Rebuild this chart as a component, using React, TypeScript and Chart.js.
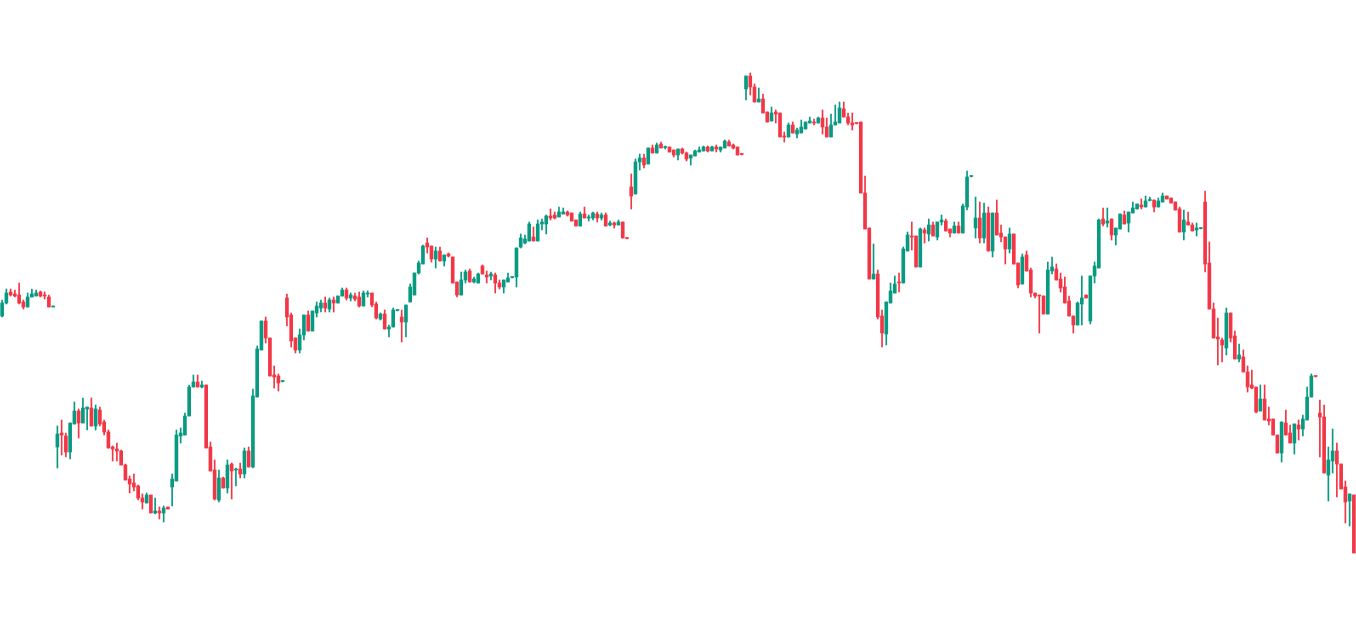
import React, { useEffect, useRef } from "react";
import { Chart, registerables } from "chart.js";

Chart.register(...registerables);

// OHLC values (arbitrary price units)
const opens = [
  284, 297, 308, 306, 305, 298, 293, 303, 304, 308, 305, 303, 293,
  153, 167, 164, 148, 176, 189, 177, 191, 192, 174, 190, 178, 168, 153, 151, 149, 135, 121, 117, 114, 102, 97,
  105, 87, 89, 87, 93, 113, 119, 164, 165, 184, 213, 218, 213, 215, 153, 130, 100, 122, 112, 136, 130, 131,
  126, 149, 133, 203, 250, 279, 262, 225, 224, 218.5,
  302, 285, 262, 250, 265, 285, 269, 287, 292, 297, 291, 300, 297, 304, 310, 302, 304, 303, 294, 306, 307,
  296, 281, 286, 271, 273, 289.5, 283, 278, 298, 305, 327, 336, 357, 354, 341, 349, 339, 346, 343, 318, 305,
  320, 329, 318, 317, 334, 325, 324, 325, 317, 313, 318, 322.5, 323, 353, 357, 359, 363, 359, 376, 376, 384,
  385, 383, 386, 388, 387, 380, 374, 386, 382, 382, 386, 382, 385, 375, 377, 375, 378, 362,
  413, 406, 438, 442, 436, 452, 447, 456, 452.5, 453, 450, 445, 451, 447, 442, 444, 448, 449, 453, 449, 453,
  450, 452, 458, 455, 453, 446,
  511, 524, 513, 498, 501, 488, 479, 488, 487, 464, 463, 475, 466, 467, 471, 477, 478, 477, 482, 473, 463,
  475, 477, 491, 483, 477, 477, 478, 407, 372, 321, 326, 284, 266, 297, 307, 318, 317, 349, 364, 364, 333,
  370, 366, 375, 363, 378, 379, 371, 367, 374, 367, 393, 423.5,
  372, 382, 362, 387, 349, 387, 367, 363, 351, 366, 337, 316, 345, 330, 307, 305, 304, 286, 329, 331, 321,
  313, 299, 284, 275, 296, 305, 279, 324, 332, 381, 377, 381, 365, 371, 385, 377, 387, 391, 395, 393, 399.5,
  400, 393, 398, 404, 402, 398, 391, 368, 378, 375, 370, 371.5, 398, 337, 291, 263, 260, 252, 287, 264, 241,
  243, 228, 215, 213, 189, 201, 181, 181, 165, 147, 177, 167, 157, 175, 171, 180, 203, 224,
  187, 183, 125, 139, 149, 136, 113, 99, 105,
];
const highs = [
  300, 311, 311, 310, 317, 300, 307, 311, 310, 309, 308, 305, 294,
  174, 180, 167, 177, 198, 191, 202, 193, 202, 195, 193, 180, 170, 154, 157, 150, 136, 124, 126, 115, 106, 107,
  105, 102, 93, 94, 93, 126, 170, 172, 187, 215, 225, 225, 219, 215, 158, 140, 130, 123, 140, 137, 132, 137,
  152, 153, 211, 254, 279, 283, 262, 234, 226, 219,
  306, 287, 262, 271, 285, 289, 289, 298, 300, 303, 302, 303, 304, 312, 312, 307, 307, 308, 309, 309, 307,
  298, 287, 290, 275, 292, 290, 290, 295, 316, 327, 339, 355, 362, 354, 353, 353, 345, 347, 343, 318, 328,
  330, 331, 323, 327, 335, 329, 328, 327, 320, 320, 327, 323, 352, 366, 365, 378, 373, 380, 381, 385, 391,
  388, 393, 392, 389, 387, 380, 388, 393, 385, 388, 388, 387, 387, 379, 378, 380, 378, 362,
  426, 441, 446, 446, 452, 455, 457, 458, 454, 453, 450, 451, 452, 448, 445, 450, 453, 454, 454, 454, 455,
  453, 460, 460, 456, 453, 446,
  524, 527, 516, 512, 506, 488, 493, 490, 487, 468, 477, 478, 472, 480, 478, 483, 481, 483, 490, 482, 486,
  495, 498, 498, 487, 487, 477, 478, 424, 372, 356, 330, 290, 298, 317, 324, 327, 353, 368, 378, 364, 372,
  372, 381, 378, 378, 385, 381, 371, 378, 378, 396, 429, 424,
  403, 398, 397, 393, 387, 400, 375, 363, 372, 366, 337, 346, 349, 332, 307, 305, 304, 338, 343, 336, 327,
  323, 304, 284, 298, 324, 305, 324, 338, 381, 392, 392, 381, 372, 386, 389, 388, 398, 396, 401, 404, 403,
  400, 402, 407, 404, 402, 398, 393, 390, 388, 377, 377, 372, 409, 358, 297, 282, 262, 292, 287, 269, 256,
  250, 234, 230, 213, 215, 215, 193, 181, 165, 178, 190, 175, 176, 180, 185, 213, 226, 224,
  200, 195, 153, 171, 157, 136, 119, 106, 105,
];
const lows = [
  283, 296, 304, 303, 296, 291, 293, 303, 304, 303, 301, 293, 293,
  132, 145, 143, 141, 176, 162, 177, 170, 174, 170, 174, 165, 152, 139, 139, 135, 120, 107, 109, 100, 91, 97,
  87, 86, 81, 78, 91, 94, 119, 157, 165, 184, 213, 213, 212, 152, 129, 100, 98, 112, 107, 101, 114, 122,
  122, 133, 132, 203, 250, 257, 224, 212, 209, 218,
  274, 253, 247, 247, 260, 269, 269, 283, 288, 288, 288, 288, 297, 304, 300, 299, 299, 293, 294, 303, 293,
  281, 280, 271, 263, 273, 289, 258, 263, 298, 305, 326, 336, 347, 338, 332, 339, 334, 343, 317, 303, 305,
  317, 318, 317, 317, 326, 317, 320, 307, 311, 307, 318, 322, 313, 352, 356, 359, 359, 359, 370, 366,
  380, 381, 383, 386, 384, 379, 374, 374, 382, 379, 380, 378, 380, 374, 374, 372, 375, 362, 361,
  391, 406, 430, 432, 436, 447, 447, 452, 451, 448, 443, 440, 446, 439, 435, 444, 448, 449, 448, 449, 448,
  448, 452, 454, 451, 445, 445,
  500, 505, 498, 498, 487, 478, 479, 477, 463, 458, 463, 467, 462, 467, 471, 477, 475, 477, 466, 463, 463,
  475, 477, 483, 475, 470, 476, 407, 371, 321, 321, 281, 253, 255, 297, 307, 308, 317, 349, 350, 333, 333,
  357, 359, 364, 360, 375, 369, 363, 367, 367, 367, 390, 423,
  362, 357, 357, 349, 343, 365, 358, 336, 347, 336, 312, 316, 329, 303, 302, 267, 286, 286, 326, 320, 308,
  297, 284, 267, 275, 275, 302, 276, 317, 332, 374, 373, 360, 355, 371, 376, 368, 387, 391, 391, 393, 399,
  388, 393, 398, 401, 397, 390, 368, 360, 375, 369, 364, 371, 328, 291, 262, 235, 238, 245, 258, 241, 238,
  228, 208, 211, 187, 189, 180, 175, 165, 147, 138, 165, 157, 146, 160, 164, 180, 203, 223,
  143, 127, 99, 127, 103, 111, 77, 74, 47,
];
const closes = [
  297, 307, 305, 304, 297, 293, 303, 306, 307, 304, 304, 293, 294,
  166, 165, 148, 177, 189, 177, 192, 193, 174, 191, 176, 168, 152, 151, 149, 135, 120, 116, 113, 102, 98, 105,
  87, 89, 87, 92, 91, 121, 165, 167, 184, 213, 218, 213, 215, 152, 129, 101, 122, 112, 135, 129, 131, 126,
  149, 133, 204, 251, 279, 262, 224, 223, 217, 219,
  283, 259, 250, 265, 285, 269, 289, 294, 297, 292, 300, 297, 304, 310, 302, 305, 301, 294, 307, 307, 295,
  282, 286, 271, 273, 290, 290, 278, 295, 313, 327, 337, 354, 353, 341, 349, 339, 345, 344, 317, 305, 320,
  328, 318, 321, 326, 326, 323, 326, 317, 313, 320, 322, 323, 352, 362, 361, 376, 359, 376, 378, 384, 382,
  382, 388, 388, 385, 379, 374, 386, 382, 383, 387, 382, 385, 374, 377, 375, 378, 362, 361.5,
  404, 438, 442, 435, 452, 447, 455, 452, 453, 448, 445, 451, 447, 441, 445, 449, 450, 453, 449, 453, 451,
  453, 459, 454, 452, 445, 445.5,
  524, 513, 498, 501, 487, 478, 487, 486, 463, 463, 475, 467, 470, 473, 478, 479, 477, 482, 473, 463, 475,
  478, 492, 483, 477, 475, 476.5, 407, 371, 321, 326, 283, 267, 298, 309, 316, 317, 351, 365, 363, 333, 371,
  367, 375, 364, 378, 380, 369, 367, 374, 367, 394, 423, 424,
  382, 362, 387, 349, 387, 365, 363, 351, 366, 336, 315, 343, 329, 307, 304, 304, 286, 330, 333, 320, 312,
  297, 284, 275, 297, 302, 302, 324, 334, 380, 376, 379, 365, 372, 386, 376, 388, 392, 396, 393, 399, 400,
  393, 399, 404, 401, 397, 390, 368, 380, 375, 369, 372, 372, 336, 291, 262, 261, 255, 287, 262, 241, 245,
  228, 213, 212, 188, 201, 180, 179, 165, 147, 178, 165, 157, 176, 171, 181, 203, 224, 223.5,
  183, 127, 140, 149, 136, 111, 98, 106, 47,
];
const labels = opens.map((_, i) => `${i + 1}`);

const UP = "#089981";
const DOWN = "#F23645";

export default function App() {
  const canvasRef = useRef<HTMLCanvasElement | null>(null);

  useEffect(() => {
    document.body.style.margin = "0";
    const canvas = canvasRef.current;
    if (!canvas) return;
    const color = (ctx: any) =>
      closes[ctx.dataIndex] >= opens[ctx.dataIndex] ? UP : DOWN;
    const chart = new Chart(canvas, {
      type: "bar",
      data: {
        labels,
        datasets: [
          {
            label: "wick",
            data: lows.map((l, i) => [l, highs[i]]) as any,
            backgroundColor: color,
            barThickness: 1,
            grouped: false,
            borderWidth: 0,
            order: 2,
          } as any,
          {
            label: "body",
            data: opens.map((o, i) => [o, closes[i]]) as any,
            backgroundColor: color,
            barThickness: 3,
            grouped: false,
            borderWidth: 0,
            minBarLength: 1,
            order: 1,
          } as any,
        ],
      },
      options: {
        animation: false,
        responsive: false,
        devicePixelRatio: 1,
        layout: { padding: 0 },
        plugins: { legend: { display: false }, tooltip: { enabled: false } },
        scales: {
          x: { display: false, offset: true, grid: { display: false } },
          y: { display: false, min: -26, max: 600 },
        },
      },
    });
    return () => chart.destroy();
  }, []);

  return (
    <div style={{ position: "absolute", left: 0, top: 0, width: 1356, height: 626, background: "#fff" }}>
      <canvas ref={canvasRef} width={1356} height={626} style={{ display: "block" }} />
    </div>
  );
}
